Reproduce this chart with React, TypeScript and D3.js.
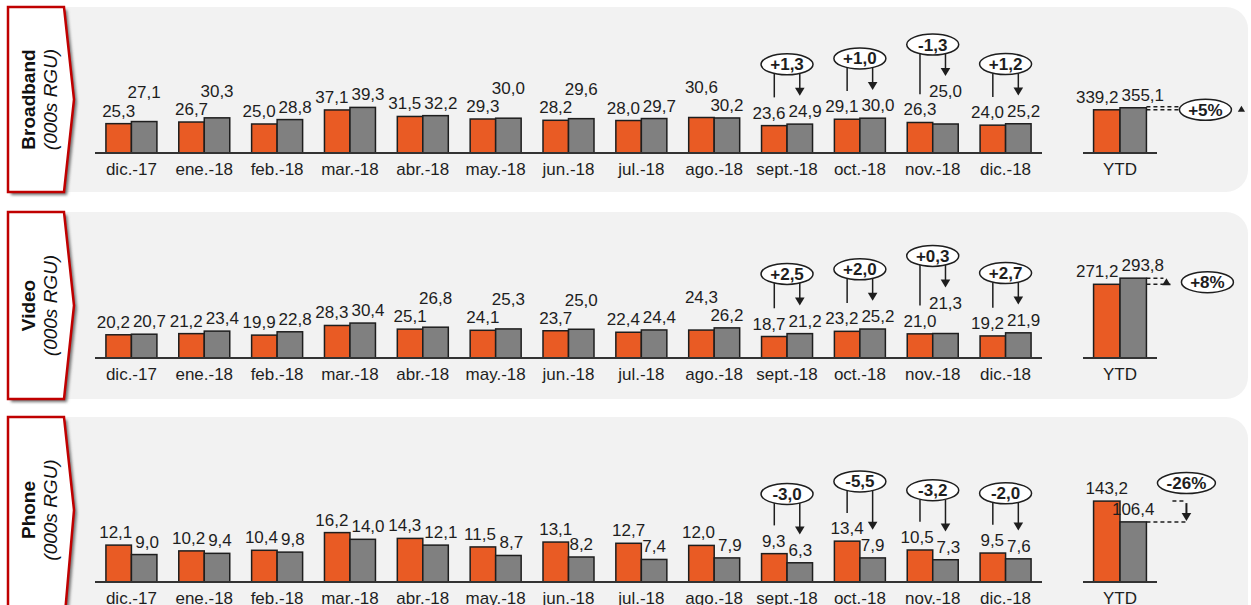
import React from 'react';
import * as d3 from 'd3';

// ---- data ----
const months = ['dic.-17', 'ene.-18', 'feb.-18', 'mar.-18', 'abr.-18', 'may.-18', 'jun.-18', 'jul.-18', 'ago.-18', 'sept.-18', 'oct.-18', 'nov.-18', 'dic.-18'];

const broadbandPrev = [25.3, 26.7, 25.0, 37.1, 31.5, 29.3, 28.2, 28.0, 30.6, 23.6, 29.1, 26.3, 24.0];
const broadbandCurr = [27.1, 30.3, 28.8, 39.3, 32.2, 30.0, 29.6, 29.7, 30.2, 24.9, 30.0, 25.0, 25.2];
const broadbandDelta = ['', '', '', '', '', '', '', '', '', '+1,3', '+1,0', '-1,3', '+1,2'];
const broadbandYtd = [339.2, 355.1];

const videoPrev = [20.2, 21.2, 19.9, 28.3, 25.1, 24.1, 23.7, 22.4, 24.3, 18.7, 23.2, 21.0, 19.2];
const videoCurr = [20.7, 23.4, 22.8, 30.4, 26.8, 25.3, 25.0, 24.4, 26.2, 21.2, 25.2, 21.3, 21.9];
const videoDelta = ['', '', '', '', '', '', '', '', '', '+2,5', '+2,0', '+0,3', '+2,7'];
const videoYtd = [271.2, 293.8];

const phonePrev = [12.1, 10.2, 10.4, 16.2, 14.3, 11.5, 13.1, 12.7, 12.0, 9.3, 13.4, 10.5, 9.5];
const phoneCurr = [9.0, 9.4, 9.8, 14.0, 12.1, 8.7, 8.2, 7.4, 7.9, 6.3, 7.9, 7.3, 7.6];
const phoneDelta = ['', '', '', '', '', '', '', '', '', '-3,0', '-5,5', '-3,2', '-2,0'];
const phoneYtd = [143.2, 106.4];

// label stacking per month: 'g' lifts the grey label, 'o' lifts the orange one
const broadbandStack = ['g', 'g', '', '', '', 'g', 'g', '', 'o', '', '', 'g', ''];
const videoStack = ['', '', '', '', 'g', 'g', 'g', '', 'o', '', '', 'g', ''];
const phoneStack = ['', '', '', '', '', '', '', '', '', '', '', '', ''];

// ---- styling / layout ----
const W = 1251;
const H = 605;
const FONT = 'Liberation Sans, Arial, Helvetica, sans-serif';
const ORANGE = '#e95b24';
const GREY = '#808080';
const INK = '#1e1e1e';
const PANEL_BG = '#f2f2f2';
const RED = '#c00000';
const FS = 17;
const PLOT_H = 100;

const panels = [
  { title: 'Broadband', prev: broadbandPrev, curr: broadbandCurr, delta: broadbandDelta, ytd: broadbandYtd, stack: broadbandStack,
    top: 7, height: 185, axisY: 153, monthMax: 86.2, ytdMax: 785, ytdMode: 'after' },
  { title: 'Video', prev: videoPrev, curr: videoCurr, delta: videoDelta, ytd: videoYtd, stack: videoStack,
    top: 212, height: 187, axisY: 358, monthMax: 87, ytdMax: 368, ytdMode: 'before' },
  { title: 'Phone', prev: phonePrev, curr: phoneCurr, delta: phoneDelta, ytd: phoneYtd, stack: phoneStack,
    top: 417, height: 215, axisY: 582, monthMax: 32.8, ytdMax: 177, ytdMode: 'above' },
];

const fmt = (v: number) => v.toFixed(1).replace('.', ',');

const charW = (c: string) => {
  if (c === ',' || c === '.') return 0.278;
  if (c === '%') return 0.889;
  if (c === '+') return 0.584;
  if (c === '-') return 0.333;
  return 0.556;
};
const textW = (s: string, fs = FS) => s.split('').reduce((a, c) => a + charW(c), 0) * fs;

const xMonth = d3.scaleBand<string>().domain(months).range([95, 1042]).paddingInner(0.3).paddingOuter(0.15);
const xYtd = d3.scaleBand<string>().domain(['YTD']).range([1083, 1157]).paddingInner(0).paddingOuter(0.2);

function placeLabels(xO: number, xG: number, topO: number, topG: number, tO: string, tG: string, stack: string) {
  const off = 7;
  const capH = FS * 0.72;
  let bO = topO - off;
  let bG = topG - off;
  let cxO = xO;
  let cxG = xG;
  if (stack === 'g') bG = Math.min(bG, bO - capH - 6);
  else if (stack === 'o') bO = Math.min(bO, bG - capH - 6);
  else if (Math.abs(bO - bG) < capH + 2) {
    const need = (textW(tO) + textW(tG)) / 2 + 3 - (xG - xO);
    if (need > 0) {
      cxO -= need / 2;
      cxG += need / 2;
    }
  }
  return { cxO, cxG, bO, bG, tpO: bO - capH, tpG: bG - capH };
}

const Arrowhead = ({ x, y, dir, size = 8 }: { x: number; y: number; dir: 'down' | 'up'; size?: number }) => {
  const h = dir === 'down' ? -size : size;
  return <path d={`M${x},${y} L${x - size * 0.6},${y + h} L${x + size * 0.6},${y + h} Z`} fill={INK} />;
};

const Bubble = ({ cx, cy, text, rx = 26, ry = 10.5 }: { cx: number; cy: number; text: string; rx?: number; ry?: number }) => (
  <g>
    <ellipse cx={cx} cy={cy} rx={rx} ry={ry} fill="#fff" stroke={INK} strokeWidth={1.5} />
    <text x={cx} y={cy + 6} textAnchor="middle" fontFamily={FONT} fontWeight="bold" fontSize={FS} fill={INK}>{text}</text>
  </g>
);

function Panel({ p }: { p: (typeof panels)[number] }) {
  const y = d3.scaleLinear().domain([0, p.monthMax]).range([p.axisY, p.axisY - PLOT_H]);
  const yY = d3.scaleLinear().domain([0, p.ytdMax]).range([p.axisY, p.axisY - PLOT_H]);
  const bw = xMonth.bandwidth() / 2;
  const bottom = p.top + p.height;
  const r = 22;
  const right = 1248;
  const bgPath = `M66,${p.top} H${right - r} A${r},${r} 0 0 1 ${right},${p.top + r} V${bottom - r} A${r},${r} 0 0 1 ${right - r},${bottom} H66 Z`;
  const mid = p.top + p.height / 2;
  const boxBottom = Math.min(bottom, H + 20);
  const boxMid = p.title === 'Phone' ? p.top + 93 : mid;
  const box = `M8,${p.top} L64,${p.top} L74,${boxMid} L64,${boxBottom} L8,${boxBottom} Z`;

  // YTD geometry
  const yb = xYtd.bandwidth() / 2;
  const yx0 = xYtd('YTD')!;
  const yxO = yx0 + yb / 2;
  const yxG = yx0 + yb * 1.5;
  const ytO = yY(p.ytd[0]);
  const ytG = yY(p.ytd[1]);
  const ytdText = [fmt(p.ytd[0]), fmt(p.ytd[1])];
  const yl = placeLabels(yxO, yxG, ytO, ytG, ytdText[0], ytdText[1], '');
  const pct = Math.round((p.ytd[1] / p.ytd[0] - 1) * 100);
  const pctText = (pct > 0 ? '+' : '') + pct + '%';
  const barRight = yx0 + xYtd.bandwidth();
  const dash = '4 3';

  let ytdAnno: React.ReactNode = null;
  if (p.ytdMode === 'after') {
    const x1 = barRight + 32;
    const cy = (ytO + ytG) / 2 + 1;
    ytdAnno = (
      <g>
        <line x1={barRight} x2={x1} y1={ytO} y2={ytO} stroke={INK} strokeWidth={1.5} strokeDasharray={dash} />
        <line x1={barRight} x2={x1} y1={ytG - 1} y2={ytG - 1} stroke={INK} strokeWidth={1.5} strokeDasharray={dash} />
        <Bubble cx={x1 + 27} cy={cy} text={pctText} />
        <Arrowhead x={x1 + 63} y={cy - 4} dir={pct > 0 ? 'up' : 'down'} size={6} />
      </g>
    );
  } else if (p.ytdMode === 'before') {
    const ax = barRight + 20;
    ytdAnno = (
      <g>
        <line x1={barRight} x2={ax + 4} y1={ytO} y2={ytO} stroke={INK} strokeWidth={1.5} strokeDasharray={dash} />
        <line x1={barRight} x2={ax - 3} y1={ytG} y2={ytG} stroke={INK} strokeWidth={1.5} strokeDasharray={dash} />
        <Arrowhead x={ax} y={ytG} dir={pct > 0 ? 'up' : 'down'} size={7} />
        <Bubble cx={ax + 41} cy={(ytO + ytG) / 2 + 1} text={pctText} />
      </g>
    );
  } else {
    const ax = barRight + 40;
    const lo = Math.max(ytO, ytG);
    const hi = Math.min(ytO, ytG);
    ytdAnno = (
      <g>
        <line x1={barRight} x2={ax} y1={ytG} y2={ytG} stroke={INK} strokeWidth={1.5} strokeDasharray={dash} />
        <line x1={ax - 14} x2={ax} y1={ytO} y2={ytO} stroke={INK} strokeWidth={1.5} strokeDasharray={dash} />
        <line x1={ax} x2={ax} y1={hi + 2} y2={lo - 8} stroke={INK} strokeWidth={2} />
        <Arrowhead x={ax} y={lo - 1} dir={pct > 0 ? 'up' : 'down'} size={8} />
        <Bubble cx={ax} cy={hi - 18} text={pctText} rx={29} />
      </g>
    );
  }

  return (
    <g>
      <path d={bgPath} fill={PANEL_BG} />
      {/* title box */}
      <path d={box} fill="#6f6f6f" transform="translate(3,3)" filter="url(#shadowBlur)" />
      <path d={box} fill="#fff" stroke={RED} strokeWidth={2.5} strokeLinejoin="miter" />
      <text transform={`translate(35,${boxMid}) rotate(-90)`} textAnchor="middle" fontFamily={FONT} fontWeight="bold" fontSize={19} fill="#111">{p.title}</text>
      <text transform={`translate(57,${boxMid}) rotate(-90)`} textAnchor="middle" fontFamily={FONT} fontStyle="italic" fontSize={19} fill="#111">(000s RGU)</text>

      {/* monthly bars */}
      {months.map((m, i) => {
        const x0 = xMonth(m)!;
        const tO = fmt(p.prev[i]);
        const tG = fmt(p.curr[i]);
        const l = placeLabels(x0 + bw / 2, x0 + bw * 1.5, y(p.prev[i]), y(p.curr[i]), tO, tG, p.stack[i]);
        const d = p.delta[i];
        let anno: React.ReactNode = null;
        if (d) {
          const by = Math.min(l.tpO, l.tpG) - 30;
          const cy = by - 10.5;
          const cx = x0 + bw;
          const edge = (dx: number) => cy + 10.5 * Math.sqrt(Math.max(0, 1 - (dx / 26) ** 2));
          const lx = x0 + bw / 2;
          const gx = x0 + bw * 1.5;
          anno = (
            <g>
              <line x1={lx} x2={lx} y1={edge(lx - cx)} y2={l.tpO - 9} stroke={INK} strokeWidth={1.5} />
              <line x1={gx} x2={gx} y1={edge(gx - cx)} y2={l.tpG - 16} stroke={INK} strokeWidth={1.5} />
              <Arrowhead x={gx} y={l.tpG - 9} dir="down" size={8} />
              <Bubble cx={cx} cy={cy} text={d} />
            </g>
          );
        }
        return (
          <g key={m}>
            <rect x={x0} y={y(p.prev[i])} width={bw} height={p.axisY - y(p.prev[i])} fill={ORANGE} stroke={INK} strokeWidth={1.5} />
            <rect x={x0 + bw} y={y(p.curr[i])} width={bw} height={p.axisY - y(p.curr[i])} fill={GREY} stroke={INK} strokeWidth={1.5} />
            <text x={l.cxO} y={l.bO} textAnchor="middle" fontFamily={FONT} fontSize={FS} fill={INK}>{tO}</text>
            <text x={l.cxG} y={l.bG} textAnchor="middle" fontFamily={FONT} fontSize={FS} fill={INK}>{tG}</text>
            <text x={x0 + bw} y={p.axisY + 22} textAnchor="middle" fontFamily={FONT} fontSize={FS} fill={INK}>{m}</text>
            {anno}
          </g>
        );
      })}
      <line x1={95} x2={1042} y1={p.axisY} y2={p.axisY} stroke="#333" strokeWidth={2} />

      {/* YTD bars */}
      <rect x={yx0} y={ytO} width={yb} height={p.axisY - ytO} fill={ORANGE} stroke={INK} strokeWidth={1.5} />
      <rect x={yx0 + yb} y={ytG} width={yb} height={p.axisY - ytG} fill={GREY} stroke={INK} strokeWidth={1.5} />
      <text x={yl.cxO} y={yl.bO} textAnchor="middle" fontFamily={FONT} fontSize={FS} fill={INK}>{ytdText[0]}</text>
      <text x={yl.cxG} y={yl.bG} textAnchor="middle" fontFamily={FONT} fontSize={FS} fill={INK}>{ytdText[1]}</text>
      <line x1={1083} x2={1157} y1={p.axisY} y2={p.axisY} stroke="#333" strokeWidth={2} />
      <text x={yx0 + yb} y={p.axisY + 22} textAnchor="middle" fontFamily={FONT} fontSize={FS} fill={INK}>YTD</text>
      {ytdAnno}
    </g>
  );
}

export default function App() {
  return (
    <svg width={W} height={H} viewBox={`0 0 ${W} ${H}`} style={{ position: 'absolute', left: 0, top: 0, background: '#fff' }}>
      <defs>
        <filter id="shadowBlur" x="-20%" y="-20%" width="140%" height="140%">
          <feGaussianBlur stdDeviation={1.5} />
        </filter>
      </defs>
      {panels.map((p) => (
        <Panel key={p.title} p={p} />
      ))}
    </svg>
  );
}
